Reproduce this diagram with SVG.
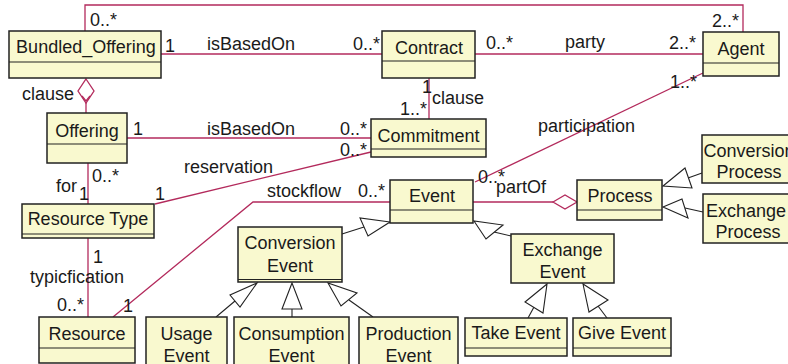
<svg xmlns="http://www.w3.org/2000/svg" width="788" height="364" viewBox="0 0 788 364">
<style>
text{font-family:"Liberation Sans",Arial,sans-serif;font-size:18px;fill:#1a1a1a}
.n{text-anchor:middle}
.box{fill:#f9f9cf;stroke:#222;stroke-width:1.5}
.div{stroke:#222;stroke-width:1.2}
.c{fill:none;stroke:#b32a5c;stroke-width:1.3}
.g{fill:none;stroke:#222;stroke-width:1.1}
.tri{fill:#fff;stroke:#222;stroke-width:1.1}
</style>
<rect width="788" height="364" fill="#fff"/>
<g id="connectors">
  <polyline class="c" points="85,31 85,5 743,5 743,32"/>
  <line class="c" x1="161" y1="54" x2="382" y2="54"/>
  <line class="c" x1="475" y1="54" x2="703" y2="54"/>
  <line class="c" x1="429" y1="78" x2="429" y2="119"/>
  <line class="c" x1="86" y1="103" x2="86" y2="113"/>
  <polygon points="86,79 94,91 86,103 78,91" fill="#fff" stroke="#b32a5c" stroke-width="1.3"/>
  <polyline class="c" points="82,96 86,101 90,96"/>
  <line class="c" x1="127" y1="138" x2="371" y2="138"/>
  <line class="c" x1="155" y1="204" x2="371" y2="152"/>
  <line class="c" x1="88" y1="163" x2="88" y2="204"/>
  <line class="c" x1="88" y1="238" x2="88" y2="317"/>
  <polyline class="c" points="113,317 253,202 390,202"/>
  <line class="c" x1="703" y1="73" x2="475" y2="182"/>
  <line class="c" x1="473" y1="202" x2="553" y2="202"/>
  <polygon points="553,202 565,195 577,202 565,209" fill="#fff" stroke="#b32a5c" stroke-width="1.3"/>
  <!-- generalizations -->
  <line class="g" x1="688" y1="178" x2="702" y2="173"/>
  <polygon class="tri" points="663,186 685,168 692,188"/>
  <line class="g" x1="685" y1="208" x2="703" y2="212"/>
  <polygon class="tri" points="663,207 682,199 688,218"/>
  <line class="g" x1="364" y1="227" x2="342" y2="234"/>
  <polygon class="tri" points="390,222 360,218 368,236"/>
  <line class="g" x1="494" y1="232" x2="511" y2="236"/>
  <polygon class="tri" points="474,221 486,239 503,225"/>
  <line class="g" x1="534" y1="307" x2="528" y2="318"/>
  <polygon class="tri" points="547,284 525,302 543,313"/>
  <line class="g" x1="598" y1="306" x2="607" y2="318"/>
  <polygon class="tri" points="583,284 589,312 608,300"/>
  <line class="g" x1="235" y1="301" x2="216" y2="317"/>
  <polygon class="tri" points="257,283 230,295 240,307"/>
  <line class="g" x1="292" y1="309" x2="292" y2="317"/>
  <polygon class="tri" points="292,283 282,309 302,309"/>
  <line class="g" x1="349" y1="300" x2="373" y2="317"/>
  <polygon class="tri" points="328,283 341,306 357,293"/>
</g>
<g id="labels">
  <text x="90" y="26">0..*</text>
  <text x="712" y="27">2..*</text>
  <text x="165" y="52">1</text>
  <text x="207" y="50">isBasedOn</text>
  <text x="353" y="50">0..*</text>
  <text x="486" y="49">0..*</text>
  <text x="565" y="48">party</text>
  <text x="669" y="49">2..*</text>
  <text x="422" y="93">1</text>
  <text x="432" y="104">clause</text>
  <text x="400" y="115">1..*</text>
  <text x="22" y="100">clause</text>
  <text x="133" y="135">1</text>
  <text x="207" y="135">isBasedOn</text>
  <text x="340" y="135">0..*</text>
  <text x="340" y="156">0..*</text>
  <text x="184" y="173">reservation</text>
  <text x="155" y="200">1</text>
  <text x="92" y="182">0..*</text>
  <text x="56" y="192">for</text>
  <text x="79" y="200">1</text>
  <text x="670" y="88">1..*</text>
  <text x="538" y="132">participation</text>
  <text x="478" y="183">0..*</text>
  <text x="496" y="193">partOf</text>
  <text x="267" y="197">stockflow</text>
  <text x="358" y="197">0..*</text>
  <text x="93" y="263">1</text>
  <text x="30" y="283">typicfication</text>
  <text x="57" y="311">0..*</text>
  <text x="123" y="312">1</text>
</g>
<g id="Bundled_Offering"><rect class="box" x="9" y="31" width="152" height="47"/><line class="div" x1="9" y1="62" x2="161" y2="62"/><text class="n" x="86" y="53">Bundled_Offering</text></g>
<g id="Contract"><rect class="box" x="382" y="31" width="93" height="47"/><line class="div" x1="382" y1="61" x2="475" y2="61"/><text class="n" x="429" y="54">Contract</text></g>
<g id="Agent"><rect class="box" x="703" y="32" width="76" height="44"/><line class="div" x1="703" y1="63" x2="779" y2="63"/><text class="n" x="741" y="55">Agent</text></g>
<g id="Offering"><rect class="box" x="47" y="113" width="80" height="50"/><line class="div" x1="47" y1="144" x2="127" y2="144"/><text class="n" x="87" y="137">Offering</text></g>
<g id="Commitment"><rect class="box" x="371" y="119" width="115" height="38"/><line class="div" x1="371" y1="149" x2="486" y2="149"/><text class="n" x="428.5" y="142">Commitment</text></g>
<g id="Resource_Type"><rect class="box" x="22" y="204" width="132" height="34"/><line class="div" x1="22" y1="234" x2="154" y2="234"/><text class="n" x="88" y="225">Resource Type</text></g>
<g id="Resource"><rect class="box" x="39" y="317" width="96" height="46"/><line class="div" x1="39" y1="348" x2="135" y2="348"/><text class="n" x="87" y="340">Resource</text></g>
<g id="Event"><rect class="box" x="390" y="180" width="83" height="43"/><line class="div" x1="390" y1="210" x2="473" y2="210"/><text class="n" x="432" y="202">Event</text></g>
<g id="Process"><rect class="box" x="577" y="180" width="85" height="40"/><line class="div" x1="577" y1="210" x2="662" y2="210"/><text class="n" x="620" y="202">Process</text></g>
<g id="Conversion_Process"><rect class="box" x="702" y="135" width="95" height="48"/><text class="n" x="749" y="157">Conversion</text><text class="n" x="749" y="178">Process</text></g>
<g id="Exchange_Process"><rect class="box" x="703" y="194" width="90" height="49"/><text class="n" x="746" y="217">Exchange</text><text class="n" x="748" y="238">Process</text></g>
<g id="Conversion_Event"><rect class="box" x="238" y="227" width="104" height="55"/><line class="div" x1="238" y1="279.5" x2="342" y2="279.5"/><text class="n" x="290" y="249">Conversion</text><text class="n" x="290" y="272">Event</text></g>
<g id="Exchange_Event"><rect class="box" x="511" y="234" width="103" height="49"/><text class="n" x="562.5" y="256">Exchange</text><text class="n" x="562.5" y="278">Event</text></g>
<g id="Usage_Event"><rect class="box" x="146" y="317" width="81" height="60"/><text class="n" x="186.5" y="340">Usage</text><text class="n" x="186.5" y="362">Event</text></g>
<g id="Consumption_Event"><rect class="box" x="234" y="317" width="115" height="60"/><text class="n" x="291.5" y="340">Consumption</text><text class="n" x="291.5" y="362">Event</text></g>
<g id="Production_Event"><rect class="box" x="359" y="317" width="99" height="60"/><text class="n" x="408.5" y="340">Production</text><text class="n" x="408.5" y="362">Event</text></g>
<g id="Take_Event"><rect class="box" x="465" y="318" width="102" height="38"/><line class="div" x1="465" y1="348" x2="567" y2="348"/><text class="n" x="516" y="339">Take Event</text></g>
<g id="Give_Event"><rect class="box" x="573" y="318" width="98" height="38"/><line class="div" x1="573" y1="348" x2="671" y2="348"/><text class="n" x="622" y="339">Give Event</text></g>
</svg>
